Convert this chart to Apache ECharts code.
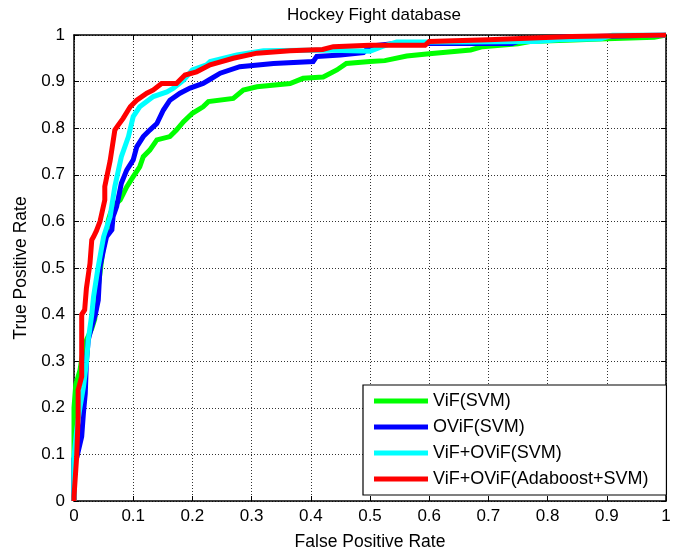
<!DOCTYPE html>
<html>
<head>
<meta charset="utf-8">
<script src="https://cdn.jsdelivr.net/npm/echarts@6/dist/echarts.min.js"></script>
<style>html,body{margin:0;padding:0;background:#fff}#c{width:681px;height:550px}</style>
</head>
<body>
<div id="c"></div>
<script>
const title = 'Hockey Fight database';
const seriesNames = ['ViF(SVM)', 'OViF(SVM)', 'ViF+OViF(SVM)', 'ViF+OViF(Adaboost+SVM)'];
const seriesColors = ['#00ff00', '#0000ff', '#00ffff', '#ff0000'];
const tickValues = [0, 0.1, 0.2, 0.3, 0.4, 0.5, 0.6, 0.7, 0.8, 0.9, 1];

const vifSvm = [[0,0],[0,0.10],[0,0.20],[0.003,0.25],[0.01,0.28],[0.015,0.32],[0.021,0.345],[0.03,0.37],[0.035,0.39],[0.04,0.45],[0.045,0.5],[0.05,0.55],[0.055,0.574],[0.058,0.603],[0.061,0.615],[0.066,0.632],[0.078,0.646],[0.089,0.674],[0.1,0.696],[0.111,0.717],[0.117,0.739],[0.128,0.753],[0.14,0.775],[0.162,0.782],[0.173,0.796],[0.185,0.814],[0.2,0.832],[0.218,0.846],[0.227,0.857],[0.269,0.864],[0.286,0.882],[0.309,0.889],[0.365,0.896],[0.387,0.907],[0.421,0.91],[0.444,0.925],[0.46,0.939],[0.5,0.943],[0.525,0.945],[0.562,0.955],[0.6,0.96],[0.67,0.968],[0.69,0.975],[0.75,0.981],[0.77,0.986],[0.843,0.989],[0.9,0.992],[0.98,0.995],[1,1]];
const ovifSvm = [[0,0],[0,0.09],[0.005,0.095],[0.013,0.138],[0.016,0.19],[0.019,0.23],[0.021,0.3],[0.024,0.345],[0.03,0.374],[0.036,0.40],[0.041,0.431],[0.044,0.503],[0.05,0.539],[0.055,0.567],[0.064,0.582],[0.066,0.61],[0.072,0.632],[0.08,0.682],[0.089,0.71],[0.1,0.732],[0.106,0.76],[0.117,0.782],[0.128,0.796],[0.14,0.81],[0.151,0.839],[0.162,0.86],[0.179,0.875],[0.196,0.886],[0.218,0.896],[0.23,0.905],[0.247,0.918],[0.28,0.932],[0.337,0.939],[0.404,0.943],[0.41,0.954],[0.45,0.957],[0.489,0.962],[0.5,0.976],[0.542,0.982],[0.74,0.982],[0.76,0.99],[0.82,0.995],[1,1]];
const vifOvifSvm = [[0,0],[0,0.095],[0.0045,0.152],[0.01,0.20],[0.016,0.245],[0.021,0.296],[0.024,0.345],[0.03,0.40],[0.033,0.438],[0.04,0.496],[0.047,0.546],[0.05,0.567],[0.061,0.61],[0.069,0.675],[0.08,0.739],[0.092,0.782],[0.1,0.825],[0.111,0.846],[0.134,0.868],[0.157,0.878],[0.168,0.886],[0.185,0.903],[0.2,0.925],[0.224,0.936],[0.23,0.943],[0.275,0.957],[0.32,0.966],[0.42,0.968],[0.5,0.965],[0.52,0.975],[0.545,0.985],[0.66,0.985],[0.78,0.986],[0.82,0.99],[0.89,0.992],[0.91,1],[1,1]];
const vifOvifAdaSvm = [[0,0],[0,0.01],[0.0045,0.095],[0.007,0.18],[0.007,0.238],[0.013,0.267],[0.013,0.40],[0.018,0.41],[0.021,0.457],[0.027,0.51],[0.03,0.56],[0.033,0.567],[0.038,0.58],[0.044,0.60],[0.052,0.646],[0.052,0.675],[0.061,0.73],[0.069,0.796],[0.075,0.807],[0.083,0.821],[0.095,0.846],[0.106,0.86],[0.123,0.875],[0.134,0.882],[0.148,0.896],[0.173,0.896],[0.1875,0.914],[0.207,0.921],[0.23,0.936],[0.269,0.95],[0.309,0.961],[0.365,0.966],[0.42,0.969],[0.438,0.975],[0.5,0.978],[0.593,0.978],[0.6,0.986],[0.7,0.99],[0.84,0.997],[1,1]];

const seriesValues = [vifSvm, ovifSvm, vifOvifSvm, vifOvifAdaSvm];

const font = 'Liberation Sans, Arial, Helvetica, sans-serif';
const fmt = v => (Math.round(v * 10) / 10).toString();

const chart = echarts.init(document.getElementById('c'), null, {renderer: 'canvas'});
const baseAxis = {
  type: 'value', min: 0, max: 1, interval: 0.1,
  axisLine: {show: true, onZero: false, lineStyle: {color: '#000', width: 1.5}},
  axisTick: {show: true, inside: true, length: 5, lineStyle: {color: '#000', width: 1}},
};
chart.setOption({
  animation: false,
  backgroundColor: '#fff',
  title: {
    text: title, left: 369, top: 2, textAlign: 'center',
    textStyle: {fontFamily: font, fontSize: 17, fontWeight: 'normal', color: '#000'}
  },
  grid: {left: 74, top: 35, right: 15, bottom: 49, containLabel: false, outerBoundsMode: 'none'},
  xAxis: [
    Object.assign({}, baseAxis, {
      position: 'bottom',
      name: 'False Positive Rate', nameLocation: 'middle', nameGap: 32,
      nameTextStyle: {fontFamily: font, fontSize: 17.5, color: '#000'},
      axisLabel: {fontFamily: font, fontSize: 17, color: '#000', margin: 7, formatter: fmt},
      splitLine: {show: true, lineStyle: {color: '#333', type: [1, 2], width: 1}}
    }),
    Object.assign({}, baseAxis, {
      position: 'top', axisLabel: {show: false}, splitLine: {show: false}
    })
  ],
  yAxis: [
    Object.assign({}, baseAxis, {
      position: 'left',
      name: 'True Positive Rate', nameLocation: 'middle', nameGap: 38,
      nameTextStyle: {fontFamily: font, fontSize: 17.5, color: '#000'},
      axisLabel: {fontFamily: font, fontSize: 17, color: '#000', margin: 9, formatter: fmt},
      splitLine: {show: true, lineStyle: {color: '#333', type: [1, 2], width: 1}}
    }),
    Object.assign({}, baseAxis, {
      position: 'right', axisLabel: {show: false}, splitLine: {show: false}
    })
  ],
  legend: {
    orient: 'vertical', left: 363, top: 385,
    padding: [7, 18, 7, 11],
    backgroundColor: '#fff', borderColor: '#000', borderWidth: 1.2,
    itemWidth: 54, itemHeight: 5, itemGap: 8,
    icon: 'rect',
    textStyle: {fontFamily: font, fontSize: 18, color: '#000', lineHeight: 18},
    data: seriesNames
  },
  series: seriesNames.map((n, i) => ({
    name: n, type: 'line', data: seriesValues[i],
    showSymbol: false, symbol: 'none', smooth: false,
    color: seriesColors[i],
    lineStyle: {color: seriesColors[i], width: 5, join: 'miter'},
    z: 2 + i
  }))
});
</script>
</body>
</html>
